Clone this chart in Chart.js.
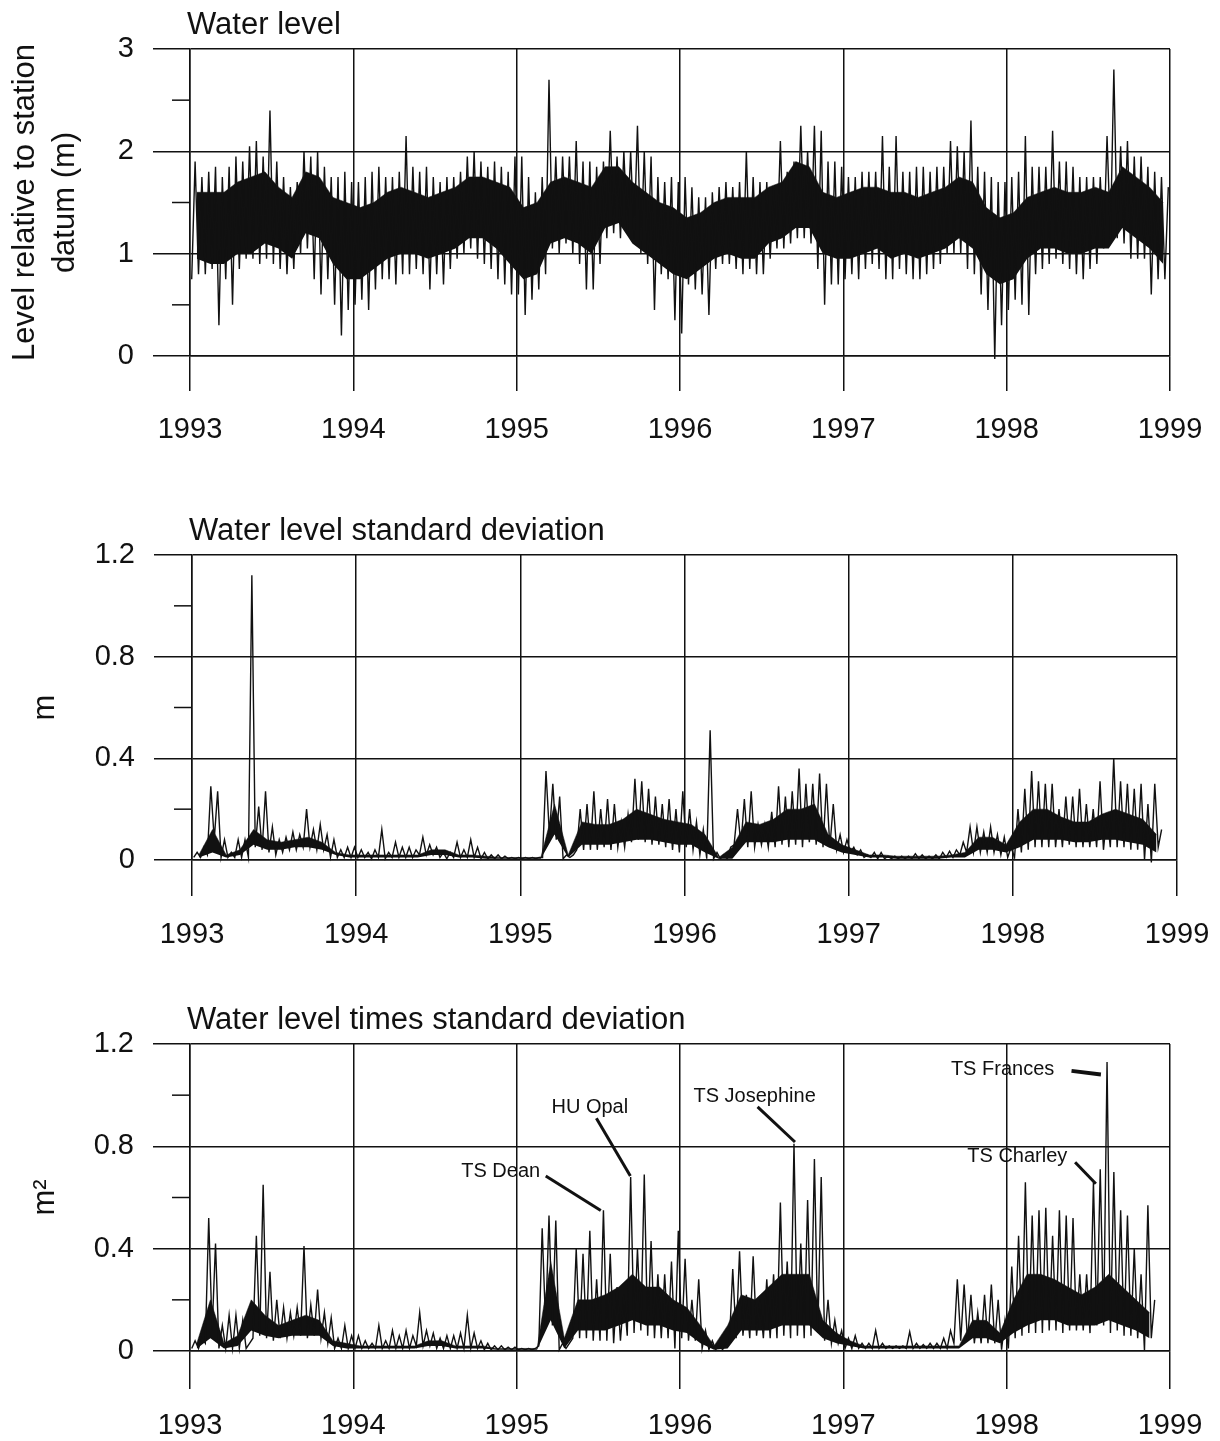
<!DOCTYPE html>
<html>
<head>
<meta charset="utf-8">
<script src="https://cdn.jsdelivr.net/npm/chart.js@4.4.1/dist/chart.umd.min.js"></script>
<style>
    html, body { margin: 0; padding: 0; background: #fff; }
    body { width: 1220px; height: 1441px; position: relative; overflow: hidden; }
    canvas { position: absolute; left: 0; }
</style>
</head>
<body>
<canvas id="level-chart" width="1220" height="480" style="top:0px"></canvas>
<canvas id="sd-chart" width="1220" height="490" style="top:480px"></canvas>
<canvas id="product-chart" width="1220" height="471" style="top:970px"></canvas>
<script>
// 水位記録 1993-1998
// envelope: half-month bins (max / min of the trace in each bin)
// core: monthly bins (the dense band where the trace is solid black)
const FIRST_YEAR = 1993;
const BINS_PER_YEAR = 24;
const CORE_BINS_PER_YEAR = 12;

const yearTicks = [1993, 1994, 1995, 1996, 1997, 1998, 1999];
const yearTickLabels = ['1993', '1994', '1995', '1996', '1997', '1998', '1999'];

const levelTicks = [0, 1, 2, 3];
const levelTickLabels = ['0', '1', '2', '3'];
const levelMinorTicks = [0.5, 1.5, 2.5];

const sdTicks = [0, 0.4, 0.8, 1.2];
const sdTickLabels = ['0', '0.4', '0.8', '1.2'];
const sdMinorTicks = [0.2, 0.6, 1.0];

// Water level (m)
const levelHigh = [
    1.9, 1.75, 1.8, 1.85, 1.75, 1.85, 1.95, 1.9, 2.05, 2.1, 1.95, 2.4, 1.9, 1.75, 1.65, 1.7, 2.0, 1.95, 2.0, 1.85, 1.75, 1.75, 1.8, 1.7,      // 1993
    1.7, 1.75, 1.8, 1.85, 1.75, 1.75, 1.8, 2.15, 1.85, 1.8, 1.85, 1.75, 1.7, 1.75, 1.75, 1.8, 1.95, 2.0, 1.9, 1.85, 1.9, 1.85, 1.8, 1.95,     // 1994
    1.95, 1.75, 1.6, 1.75, 2.7, 1.95, 1.95, 1.95, 2.1, 1.9, 1.9, 1.85, 1.9, 2.2, 1.95, 2.0, 2.0, 2.25, 2.0, 1.95, 1.75, 1.7, 1.75, 1.7,      // 1995
    1.75, 1.65, 1.55, 1.55, 1.6, 1.65, 1.7, 1.65, 1.7, 2.0, 1.75, 1.7, 1.7, 1.65, 2.1, 1.8, 1.9, 2.25, 2.0, 2.25, 2.2, 1.9, 1.9, 1.85,      // 1996
    1.75, 1.75, 1.8, 1.8, 1.8, 2.15, 1.85, 2.15, 1.8, 1.8, 1.85, 1.85, 1.8, 1.85, 1.85, 2.1, 2.05, 2.0, 2.3, 1.85, 1.8, 1.75, 1.7, 1.7,      // 1997
    1.75, 1.8, 2.15, 1.85, 1.85, 1.85, 2.2, 1.9, 1.9, 1.85, 1.75, 1.75, 1.75, 1.75, 2.15, 2.8, 2.05, 2.1, 1.95, 1.95, 1.85, 1.8, 1.75, 1.65   // 1998
];
const levelLow = [
    0.75, 0.8, 0.8, 0.85, 0.3, 0.75, 0.5, 0.85, 0.95, 0.95, 0.9, 0.95, 0.9, 0.85, 0.8, 0.85, 1.0, 1.05, 0.75, 0.6, 0.75, 0.5, 0.2, 0.45,
    0.5, 0.55, 0.45, 0.65, 0.75, 0.75, 0.7, 0.8, 0.8, 0.85, 0.8, 0.65, 0.8, 0.7, 0.85, 0.95, 1.0, 1.05, 0.95, 0.9, 0.85, 0.75, 0.7, 0.6,
    0.6, 0.4, 0.55, 0.65, 0.8, 1.05, 1.0, 1.1, 1.0, 0.9, 0.65, 0.65, 0.9, 1.15, 1.2, 1.15, 1.2, 1.15, 1.0, 0.9, 0.45, 0.8, 0.75, 0.35,
    0.22, 0.7, 0.65, 0.6, 0.4, 0.85, 0.9, 0.9, 0.85, 0.8, 0.85, 0.8, 0.8, 0.95, 1.05, 1.05, 1.1, 1.15, 1.15, 1.1, 0.85, 0.5, 0.7, 0.7,
    0.75, 0.8, 0.75, 0.85, 0.9, 0.85, 0.75, 0.75, 0.85, 0.8, 0.75, 0.75, 0.8, 0.85, 0.9, 1.0, 1.0, 1.0, 0.85, 0.8, 0.6, 0.45, -0.03, 0.3,
    0.45, 0.55, 0.5, 0.4, 0.8, 0.85, 0.9, 0.95, 0.9, 0.85, 0.8, 0.75, 0.85, 0.9, 1.05, 1.15, 1.15, 1.1, 0.95, 0.95, 0.95, 0.6, 0.75, 0.75
];
const levelCoreHigh = [
    1.6, 1.6, 1.6, 1.7, 1.75, 1.8, 1.65, 1.55, 1.8, 1.75, 1.55, 1.5,
    1.45, 1.5, 1.6, 1.65, 1.6, 1.55, 1.6, 1.65, 1.75, 1.75, 1.7, 1.65,
    1.45, 1.5, 1.7, 1.75, 1.7, 1.65, 1.85, 1.85, 1.7, 1.6, 1.5, 1.45,
    1.35, 1.4, 1.5, 1.55, 1.55, 1.55, 1.65, 1.7, 1.9, 1.85, 1.6, 1.55,
    1.6, 1.65, 1.65, 1.6, 1.6, 1.55, 1.6, 1.65, 1.75, 1.7, 1.45, 1.35,
    1.4, 1.55, 1.6, 1.65, 1.6, 1.6, 1.65, 1.6, 1.85, 1.75, 1.65, 1.5
];
const levelCoreLow = [
    0.95, 0.9, 0.9, 1.0, 1.0, 1.1, 1.05, 0.95, 1.2, 1.15, 0.9, 0.75,
    0.75, 0.85, 0.95, 1.0, 1.0, 0.95, 1.0, 1.05, 1.15, 1.15, 1.05, 0.9,
    0.75, 0.8, 1.1, 1.15, 1.1, 1.0, 1.25, 1.3, 1.1, 1.0, 0.9, 0.8,
    0.75, 0.85, 0.95, 1.0, 0.95, 0.95, 1.1, 1.15, 1.25, 1.25, 1.0, 0.95,
    0.95, 1.0, 1.05, 0.95, 1.0, 0.95, 1.0, 1.05, 1.15, 1.05, 0.8, 0.7,
    0.75, 0.95, 1.05, 1.05, 1.0, 1.0, 1.05, 1.05, 1.25, 1.15, 1.05, 0.9
];

// Water level standard deviation (m) - record stops late 1998
const sdHigh = [
    0.03, 0.05, 0.29, 0.27, 0.08, 0.03, 0.08, 0.08, 1.12, 0.21, 0.27, 0.13, 0.08, 0.09, 0.11, 0.1, 0.2, 0.12, 0.14, 0.1, 0.08, 0.04, 0.05, 0.05,
    0.04, 0.03, 0.04, 0.12, 0.03, 0.07, 0.05, 0.05, 0.04, 0.09, 0.06, 0.05, 0.03, 0.03, 0.07, 0.04, 0.08, 0.05, 0.03, 0.02, 0.02, 0.015, 0.01, 0.01,
    0.01, 0.01, 0.01, 0.35, 0.3, 0.25, 0.02, 0.02, 0.2, 0.22, 0.27, 0.2, 0.24, 0.22, 0.15, 0.18, 0.32, 0.31, 0.28, 0.25, 0.22, 0.24, 0.2, 0.27,
    0.2, 0.15, 0.12, 0.51, 0.03, 0.02, 0.05, 0.2, 0.24, 0.27, 0.14, 0.14, 0.19, 0.29, 0.25, 0.27, 0.36, 0.3, 0.3, 0.34, 0.3, 0.22, 0.1, 0.08,
    0.05, 0.04, 0.02, 0.03, 0.03, 0.015, 0.015, 0.015, 0.015, 0.025, 0.02, 0.015, 0.02, 0.03, 0.035, 0.04, 0.07, 0.13, 0.13, 0.11, 0.13, 0.1, 0.09, 0.05,
    0.2, 0.28, 0.35, 0.31, 0.3, 0.3, 0.2, 0.25, 0.25, 0.28, 0.22, 0.2, 0.31, 0.18, 0.4, 0.31, 0.3, 0.28, 0.3, 0.22, 0.3, 0.12
];
const sdLow = [
    0.01, 0.01, 0.02, 0.08, 0.01, 0.01, 0.01, 0.01, 0.01, 0.05, 0.04, 0.03, 0.02, 0.03, 0.04, 0.04, 0.05, 0.05, 0.04, 0.04, 0.01, 0.01, 0.01, 0.01,
    0.01, 0.01, 0.005, 0.01, 0.005, 0.01, 0.01, 0.01, 0.01, 0.02, 0.02, 0.02, 0.01, 0.005, 0.01, 0.01, 0.01, 0.01, 0.005, 0.005, 0.005, 0.005, 0.005, 0.005,
    0.005, 0.005, 0.005, 0.01, 0.1, 0.08, 0.005, 0.01, 0.04, 0.04, 0.04, 0.04, 0.05, 0.04, 0.05, 0.05, 0.07, 0.08, 0.07, 0.06, 0.06, 0.05, 0.04, 0.03,
    0.05, 0.04, 0.02, 0.005, 0.005, 0.005, 0.005, 0.06, 0.06, 0.05, 0.05, 0.06, 0.05, 0.05, 0.06, 0.05, 0.06, 0.05, 0.07, 0.06, 0.05, 0.05, 0.04, 0.03,
    0.03, 0.02, 0.01, 0.01, 0.005, 0.005, 0.005, 0.005, 0.005, 0.005, 0.005, 0.005, 0.005, 0.005, 0.01, 0.01, 0.02, 0.03, 0.03, 0.03, 0.03, 0.03, 0.02, 0.01,
    0.01, 0.03, 0.04, 0.05, 0.05, 0.05, 0.05, 0.05, 0.06, 0.05, 0.05, 0.05, 0.05, 0.04, 0.05, 0.05, 0.05, 0.04, 0.04, 0.0, -0.01, 0.05
];
const sdCoreHigh = [
    0.02, 0.12, 0.02, 0.04, 0.12, 0.08, 0.07, 0.08, 0.09, 0.07, 0.03, 0.02,
    0.02, 0.02, 0.02, 0.02, 0.02, 0.04, 0.04, 0.02, 0.02, 0.015, 0.01, 0.01,
    0.01, 0.01, 0.22, 0.02, 0.15, 0.14, 0.14, 0.16, 0.2, 0.18, 0.16, 0.15,
    0.14, 0.1, 0.01, 0.05, 0.15, 0.14, 0.16, 0.2, 0.2, 0.22, 0.1, 0.06,
    0.04, 0.02, 0.02, 0.015, 0.015, 0.015, 0.015, 0.02, 0.03, 0.09, 0.09, 0.06,
    0.15, 0.2, 0.2, 0.17, 0.15, 0.15, 0.18, 0.2, 0.18, 0.16, 0.1
];
const sdCoreLow = [
    0.01, 0.03, 0.01, 0.02, 0.06, 0.04, 0.04, 0.05, 0.05, 0.04, 0.02, 0.01,
    0.01, 0.01, 0.01, 0.01, 0.01, 0.02, 0.02, 0.01, 0.01, 0.005, 0.005, 0.005,
    0.005, 0.005, 0.1, 0.01, 0.06, 0.06, 0.06, 0.07, 0.08, 0.08, 0.07, 0.06,
    0.06, 0.03, 0.005, 0.005, 0.07, 0.07, 0.07, 0.08, 0.08, 0.08, 0.05, 0.03,
    0.02, 0.01, 0.01, 0.005, 0.005, 0.005, 0.005, 0.01, 0.01, 0.04, 0.04, 0.03,
    0.05, 0.08, 0.08, 0.08, 0.07, 0.07, 0.08, 0.08, 0.07, 0.06, 0.03
];

// Water level times standard deviation (m²)
const productHigh = [
    0.04, 0.05, 0.52, 0.42, 0.1, 0.14, 0.14, 0.12, 0.03, 0.45, 0.65, 0.31, 0.2, 0.17, 0.15, 0.17, 0.41, 0.18, 0.24, 0.15, 0.13, 0.05, 0.1, 0.06,
    0.06, 0.04, 0.03, 0.1, 0.04, 0.08, 0.06, 0.08, 0.06, 0.15, 0.08, 0.07, 0.05, 0.06, 0.06, 0.07, 0.14, 0.07, 0.04, 0.03, 0.02, 0.02, 0.015, 0.015,
    0.01, 0.01, 0.01, 0.48, 0.53, 0.51, 0.03, 0.03, 0.4, 0.38, 0.47, 0.28, 0.55, 0.38, 0.25, 0.22, 0.68, 0.4, 0.69, 0.43, 0.3, 0.3, 0.35, 0.47,
    0.36, 0.2, 0.28, 0.08, 0.04, 0.03, 0.03, 0.32, 0.39, 0.22, 0.37, 0.2, 0.28, 0.3, 0.58, 0.35, 0.81, 0.42, 0.59, 0.75, 0.68, 0.2, 0.12, 0.08,
    0.05, 0.06, 0.03, 0.03, 0.08, 0.03, 0.02, 0.02, 0.02, 0.075, 0.03, 0.025, 0.03, 0.03, 0.05, 0.08, 0.28, 0.26, 0.22, 0.15, 0.22, 0.26, 0.2, 0.12,
    0.33, 0.45, 0.66, 0.53, 0.55, 0.56, 0.45, 0.55, 0.53, 0.52, 0.3, 0.3, 0.66, 0.71, 1.13, 0.7, 0.55, 0.53, 0.4, 0.3, 0.57, 0.2
];
const productLow = [
    0.01, 0.01, 0.03, 0.08, 0.01, 0.01, 0.01, 0.01, 0.01, 0.05, 0.06, 0.05, 0.04, 0.05, 0.05, 0.06, 0.06, 0.05, 0.06, 0.05, 0.03, 0.01, 0.01, 0.01,
    0.01, 0.01, 0.01, 0.01, 0.01, 0.01, 0.01, 0.01, 0.01, 0.02, 0.02, 0.02, 0.01, 0.01, 0.01, 0.01, 0.01, 0.01, 0.01, 0.005, 0.005, 0.005, 0.005, 0.005,
    0.005, 0.005, 0.005, 0.02, 0.1, 0.1, 0.005, 0.01, 0.05, 0.05, 0.05, 0.04, 0.04, 0.04, 0.03, 0.04, 0.06, 0.07, 0.08, 0.06, 0.05, 0.05, 0.05, 0.01,
    0.05, 0.04, 0.04, 0.01, 0.005, 0.005, 0.005, 0.03, 0.05, 0.06, 0.05, 0.06, 0.05, 0.05, 0.05, 0.06, 0.05, 0.06, 0.05, 0.06, 0.07, 0.04, 0.03, 0.03,
    0.01, 0.01, 0.01, 0.01, 0.01, 0.01, 0.01, 0.01, 0.01, 0.01, 0.01, 0.01, 0.01, 0.01, 0.01, 0.01, 0.03, 0.04, 0.04, 0.03, 0.03, 0.03, 0.03, 0.005,
    0.01, 0.05, 0.06, 0.07, 0.07, 0.07, 0.08, 0.08, 0.07, 0.08, 0.08, 0.08, 0.07, 0.1, 0.1, 0.07, 0.08, 0.06, 0.06, 0.05, 0.0, 0.05
];
const productCoreHigh = [
    0.03, 0.2, 0.03, 0.06, 0.2, 0.14, 0.1, 0.12, 0.14, 0.12, 0.04, 0.03,
    0.02, 0.02, 0.02, 0.02, 0.02, 0.04, 0.04, 0.02, 0.02, 0.02, 0.01, 0.01,
    0.01, 0.01, 0.35, 0.05, 0.2, 0.2, 0.22, 0.25, 0.3, 0.25, 0.25, 0.2,
    0.17, 0.1, 0.02, 0.1, 0.22, 0.2, 0.25, 0.3, 0.3, 0.3, 0.12, 0.07,
    0.04, 0.02, 0.02, 0.02, 0.02, 0.02, 0.02, 0.02, 0.02, 0.12, 0.12, 0.07,
    0.2, 0.3, 0.3, 0.28, 0.25, 0.22, 0.25, 0.3, 0.25, 0.2, 0.15
];
const productCoreLow = [
    0.01, 0.05, 0.01, 0.02, 0.08, 0.06, 0.05, 0.06, 0.06, 0.06, 0.02, 0.01,
    0.01, 0.01, 0.01, 0.01, 0.01, 0.02, 0.02, 0.01, 0.01, 0.01, 0.005, 0.005,
    0.005, 0.005, 0.12, 0.01, 0.08, 0.08, 0.08, 0.1, 0.12, 0.1, 0.1, 0.08,
    0.07, 0.03, 0.005, 0.01, 0.08, 0.08, 0.08, 0.1, 0.1, 0.1, 0.05, 0.03,
    0.02, 0.01, 0.01, 0.01, 0.01, 0.01, 0.01, 0.01, 0.01, 0.05, 0.05, 0.03,
    0.07, 0.1, 0.12, 0.12, 0.1, 0.1, 0.1, 0.12, 0.1, 0.08, 0.05
];

// 台風・熱帯暴風の注記 (data coordinates: year, m²)
const stormNames = ['TS Dean', 'HU Opal', 'TS Josephine', 'TS Frances', 'TS Charley'];
const stormLabelYear = [1994.902, 1995.448, 1996.457, 1997.975, 1998.065];
const stormLabelValue = [0.70, 0.95, 0.995, 1.10, 0.76];
const stormLeaderYear = [1995.178, 1995.488, 1996.475, 1998.397, 1998.419];
const stormLeaderValue = [0.684, 0.91, 0.954, 1.095, 0.738];
const stormPeakYear = [1995.515, 1995.696, 1996.704, 1998.577, 1998.546];
const stormPeakValue = [0.549, 0.684, 0.817, 1.081, 0.654];

const INK = '#111';
const FONT = "'Liberation Sans', Arimo, Arial, Helvetica, sans-serif";

// 各ビンを min -> max のジグザグにして細かい振動を再現
function envelopePoints(highs, lows) {
    const pts = [];
    highs.forEach((h, i) => {
        const x0 = FIRST_YEAR + i / BINS_PER_YEAR;
        pts.push({ x: x0 + 0.25 / BINS_PER_YEAR, y: lows[i] });
        pts.push({ x: x0 + 0.75 / BINS_PER_YEAR, y: h });
    });
    return pts;
}

function corePoints(values) {
    return values.map((v, i) => ({ x: FIRST_YEAR + (i + 0.5) / CORE_BINS_PER_YEAR, y: v }));
}

const panelDecor = {
    id: 'panelDecor',
    afterDraw(chart, args, opts) {
        const { ctx, chartArea, scales } = chart;
        ctx.save();

        // panel title
        ctx.fillStyle = INK;
        ctx.font = `31px ${FONT}`;
        ctx.textAlign = 'left';
        ctx.textBaseline = 'middle';
        ctx.fillText(opts.title, chartArea.left - 3, chartArea.top - 24);

        // minor ticks on the left axis
        ctx.strokeStyle = INK;
        ctx.lineWidth = 1.5;
        opts.minorTicks.forEach(v => {
            const y = scales.y.getPixelForValue(v);
            ctx.beginPath();
            ctx.moveTo(chartArea.left - 18, y);
            ctx.lineTo(chartArea.left, y);
            ctx.stroke();
        });

        // storm labels with leader lines
        if (opts.storms) {
            ctx.font = `20px ${FONT}`;
            ctx.textAlign = 'center';
            stormNames.forEach((name, i) => {
                ctx.fillText(name,
                    scales.x.getPixelForValue(stormLabelYear[i]),
                    scales.y.getPixelForValue(stormLabelValue[i]));
                ctx.lineWidth = name === 'TS Frances' ? 4 : 3;
                ctx.beginPath();
                ctx.moveTo(scales.x.getPixelForValue(stormLeaderYear[i]), scales.y.getPixelForValue(stormLeaderValue[i]));
                ctx.lineTo(scales.x.getPixelForValue(stormPeakYear[i]), scales.y.getPixelForValue(stormPeakValue[i]));
                ctx.stroke();
            });
        }
        ctx.restore();
    }
};

function makePanel(canvasId, p) {
    const ctx = document.getElementById(canvasId);
    return new Chart(ctx, {
        type: 'line',
        data: {
            datasets: [{
                data: envelopePoints(p.highs, p.lows),
                borderColor: INK,
                borderWidth: 1.4,
                pointRadius: 0,
                tension: 0,
                fill: false,
                clip: 6,
            }, {
                data: corePoints(p.coreLows),
                borderWidth: 0,
                pointRadius: 0,
                fill: false,
            }, {
                data: corePoints(p.coreHighs),
                borderColor: INK,
                borderWidth: 0.5,
                backgroundColor: INK,
                pointRadius: 0,
                fill: '-1',
            }]
        },
        options: {
            responsive: false,
            animation: false,
            events: [],
            parsing: false,
            layout: {
                padding: { top: p.top, right: 1220 - p.right, bottom: 0, left: 0 }
            },
            plugins: {
                legend: { display: false },
                tooltip: { enabled: false },
                filler: { propagate: false },
                panelDecor: {
                    title: p.title,
                    minorTicks: p.minorTicks,
                    storms: p.storms || false
                }
            },
            scales: {
                x: {
                    type: 'linear',
                    min: 1993,
                    max: 1999,
                    afterFit: s => {
                        s.height = p.height - p.bottom;
                        // 端のラベルのはみ出しでプロット幅が縮まないように
                        s.paddingLeft = 0;
                        s.paddingRight = 0;
                    },
                    afterBuildTicks: s => { s.ticks = yearTicks.map(v => ({ value: v })); },
                    grid: {
                        color: INK,
                        lineWidth: 1.5,
                        tickLength: p.xTickLength,
                        tickColor: INK
                    },
                    border: { color: INK, width: 1.5 },
                    ticks: {
                        color: INK,
                        padding: p.xLabelPadding,
                        maxRotation: 0,
                        autoSkip: false,
                        font: { family: FONT, size: 29 },
                        callback: (v, i) => yearTickLabels[i]
                    }
                },
                y: {
                    min: p.yTicks[0],
                    max: p.yTicks[p.yTicks.length - 1],
                    afterFit: s => { s.width = p.left; },
                    afterBuildTicks: s => { s.ticks = p.yTicks.map(v => ({ value: v })); },
                    grid: {
                        color: INK,
                        lineWidth: 1.5,
                        tickLength: p.yTickLength,
                        tickColor: INK
                    },
                    border: { color: INK, width: 1.5 },
                    ticks: {
                        color: INK,
                        padding: 19,
                        font: { family: FONT, size: 29 },
                        callback: (v, i) => p.yTickLabels[i]
                    },
                    title: {
                        display: true,
                        text: p.yTitle,
                        color: INK,
                        font: { family: FONT, size: 31, lineHeight: 1.3 },
                        padding: { top: p.yTitlePad, bottom: 0 }
                    }
                }
            }
        },
        plugins: [panelDecor]
    });
}

makePanel('level-chart', {
    highs: levelHigh, lows: levelLow,
    coreHighs: levelCoreHigh, coreLows: levelCoreLow,
    title: 'Water level',
    yTitle: ['Level relative to station', 'datum (m)'],
    yTitlePad: 5,
    yTicks: levelTicks, yTickLabels: levelTickLabels, minorTicks: levelMinorTicks,
    height: 480, top: 49, bottom: 356, left: 190, right: 1170,
    xTickLength: 35, yTickLength: 37, xLabelPadding: 22
});

makePanel('sd-chart', {
    highs: sdHigh, lows: sdLow,
    coreHighs: sdCoreHigh, coreLows: sdCoreLow,
    title: 'Water level standard deviation',
    yTitle: 'm',
    yTitlePad: 25,
    yTicks: sdTicks, yTickLabels: sdTickLabels, minorTicks: sdMinorTicks,
    height: 490, top: 75, bottom: 380, left: 192, right: 1177,
    xTickLength: 36, yTickLength: 38, xLabelPadding: 22
});

makePanel('product-chart', {
    highs: productHigh, lows: productLow,
    coreHighs: productCoreHigh, coreLows: productCoreLow,
    title: 'Water level times standard deviation',
    yTitle: 'm²',
    yTitlePad: 25,
    yTicks: sdTicks, yTickLabels: sdTickLabels, minorTicks: sdMinorTicks,
    height: 471, top: 74, bottom: 381, left: 190, right: 1170,
    xTickLength: 38, yTickLength: 37, xLabelPadding: 20,
    storms: true
});
</script>
</body>
</html>
